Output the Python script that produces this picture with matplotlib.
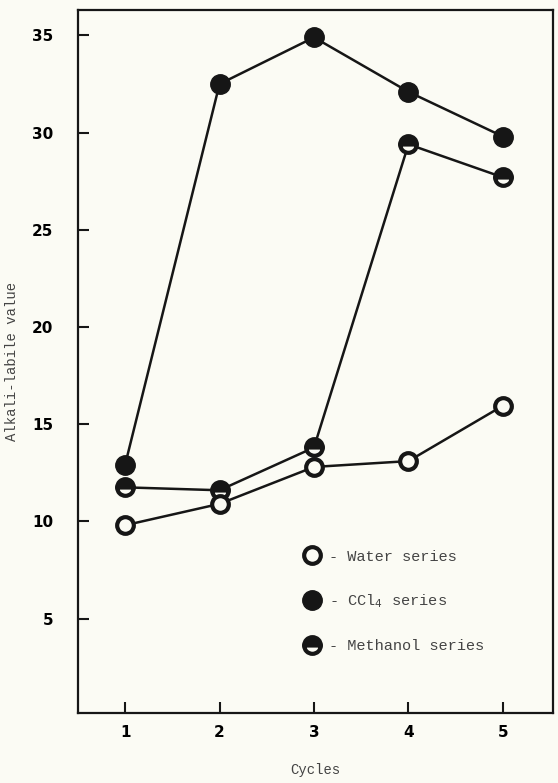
import matplotlib
matplotlib.use("Agg")
import matplotlib.pyplot as plt
from matplotlib.lines import Line2D

cycles = [1, 2, 3, 4, 5]
water = [9.8, 10.9, 12.8, 13.1, 15.95]
ccl4 = [12.9, 32.5, 34.9, 32.1, 29.8]
methanol = [11.75, 11.6, 13.8, 29.4, 27.7]
yticks = [5, 10, 15, 20, 25, 30, 35]
xticks = [1, 2, 3, 4, 5]

bg = "#fbfbf4"
ink = "#161616"

fig = plt.figure(figsize=(5.58, 7.83), dpi=100, facecolor=bg)
ax = fig.add_axes([0.140, 0.0894, 0.851, 0.8976], facecolor=bg)

lw = 1.8
ms = 12
ax.plot(cycles, ccl4, color=ink, lw=lw, marker='o', ms=ms + 2,
        mfc=ink, mec=ink, zorder=3)
ax.plot(cycles, methanol, color=ink, lw=lw, marker='o', ms=ms,
        mfc=ink, mfcalt=bg, fillstyle='top', mec=ink, mew=3, zorder=4)
ax.plot(cycles, water, color=ink, lw=lw, marker='o', ms=ms,
        mfc=bg, mec=ink, mew=3, zorder=4)

ax.set_xlim(0.503, 5.53)
ax.set_ylim(0.14, 36.3)
ax.set_xticks(xticks)
ax.set_yticks(yticks)
ax.set_xticklabels([str(v) for v in xticks], fontweight='bold', fontsize=11)
ax.set_yticklabels([str(v) for v in yticks], fontweight='bold', fontsize=11)
ax.tick_params(direction='in', length=8, width=1.5, color=ink)
ax.tick_params(axis='y', pad=18)
ax.tick_params(axis='x', pad=9)
for s in ax.spines.values():
    s.set_linewidth(1.6)
    s.set_color(ink)

mono = "Liberation Mono"
ax.set_ylabel("Alkali-labile value", family=mono, fontsize=10, color="#444444",
              labelpad=9)
ax.set_xlabel("Cycles", family=mono, fontsize=10, color="#444444", labelpad=16)

handles = [
    Line2D([], [], ls='none', marker='o', ms=ms, mfc=bg, mec=ink, mew=3),
    Line2D([], [], ls='none', marker='o', ms=ms + 2, mfc=ink, mec=ink),
    Line2D([], [], ls='none', marker='o', ms=ms, mfc=ink, mfcalt=bg,
           fillstyle='top', mec=ink, mew=3),
]
labels = ["- Water series", "- CCl$_4$ series", "- Methanol series"]
leg = ax.legend(handles, labels, loc='upper left', bbox_to_anchor=(0.447, 0.252),
                frameon=False, prop={'family': mono, 'size': 11},
                handlelength=1.0, handletextpad=0.6, labelspacing=1.9)
for t in leg.get_texts():
    t.set_color("#444444")

fig.savefig("out.png", dpi=100, facecolor=bg)
